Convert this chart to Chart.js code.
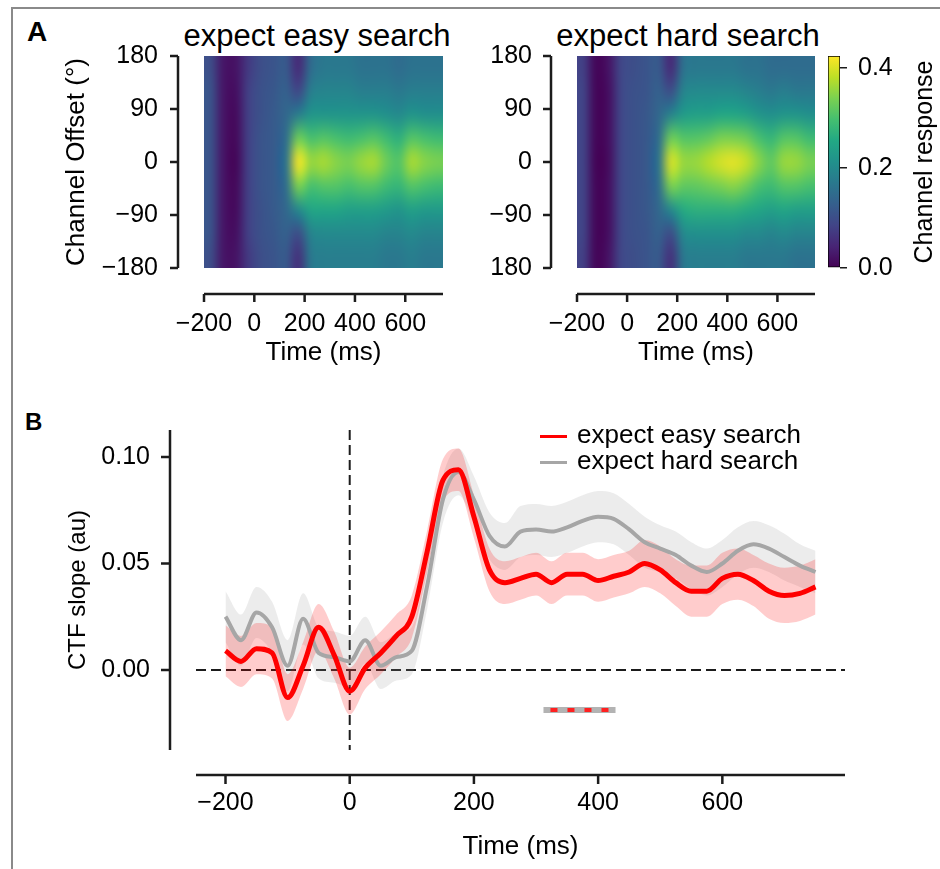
<!DOCTYPE html>
<html>
<head>
<meta charset="utf-8">
<title>CTF slope by expected search difficulty</title>
<script src="https://cdn.jsdelivr.net/npm/chart.js@4.4.1/dist/chart.umd.min.js"></script>
<style>
  html, body { margin: 0; padding: 0; background: #fff; }
  body { width: 940px; height: 869px; position: relative; overflow: hidden;
         font-family: 'Liberation Sans', Arial, sans-serif; color: #000; }
  .frame { position: absolute; left: 11px; top: 7px; width: 929px; height: 862px; box-sizing: border-box;
           border-left: 2px solid #8a8a8a; border-top: 2px solid #8a8a8a; }
  canvas { position: absolute; }
  .panel { position: absolute; font-weight: bold; }
  .htitle { position: absolute; width: 500px; text-align: center; font-size: 31px; line-height: 36px; white-space: nowrap; }
  .cblabel { position: absolute; left: 793px; top: 147px; width: 260px; height: 30px; line-height: 30px;
             font-size: 25px; text-align: center; transform: rotate(-90deg); white-space: nowrap; }
  .leg { position: absolute; left: 540px; height: 30px; line-height: 30px; font-size: 26px; white-space: nowrap; }
  .leg .sw { display: inline-block; width: 27px; height: 3px; vertical-align: middle; margin-right: 10px; }
</style>
</head>
<body>
<div class="frame"></div>
<div class="panel" style="left:27px; top:16px; font-size:28px; line-height:32px;">A</div>
<div class="panel" style="left:25px; top:408px; font-size:24px; line-height:28px;">B</div>
<div class="htitle" style="left:67px; top:18px;">expect easy search</div>
<div class="htitle" style="left:438px; top:18px;">expect hard search</div>
<canvas id="heatEasy" width="430" height="344" style="left:40px; top:36px;"></canvas>
<canvas id="heatHard" width="372" height="344" style="left:470px; top:36px;"></canvas>
<canvas id="cbar" width="140" height="354" style="left:800px; top:26px;"></canvas>
<div class="cblabel">Channel response</div>
<canvas id="slope" width="940" height="469" style="left:0px; top:400px;"></canvas>
<div class="leg" style="top:419px;"><span class="sw" style="background:#ff0000"></span>expect easy search</div>
<div class="leg" style="top:445px;"><span class="sw" style="background:#a6a6a6"></span>expect hard search</div>

<script>
/* -------------------- DATA -------------------- */

// panel B: CTF slope time courses
const timeMs = [-200, -175, -150, -125, -100, -75, -50, -25, 0, 25, 50, 75, 100, 125, 150, 175, 200,
    225, 250, 275, 300, 325, 350, 375, 400, 425, 450, 475, 500, 525, 550, 575, 600, 625, 650, 675, 700, 725, 750];

const easyMean = [0.009, 0.004, 0.010, 0.008, -0.013, 0.002, 0.020, 0.007, -0.010,
    0.001, 0.008, 0.016, 0.025, 0.056, 0.089, 0.094, 0.072,
    0.047, 0.041, 0.043, 0.045, 0.041, 0.045, 0.045, 0.042,
    0.044, 0.046, 0.050, 0.047, 0.041, 0.037, 0.037, 0.043,
    0.045, 0.042, 0.037, 0.035, 0.036, 0.039];
const easySem = [0.012, 0.012, 0.012, 0.012, 0.011, 0.011, 0.011, 0.011, 0.011,
    0.010, 0.010, 0.010, 0.010, 0.010, 0.010, 0.010, 0.010,
    0.010, 0.010, 0.010, 0.010, 0.010, 0.010, 0.010, 0.010,
    0.010, 0.010, 0.011, 0.011, 0.011, 0.012, 0.012, 0.012,
    0.012, 0.012, 0.013, 0.013, 0.013, 0.013];

const hardMean = [0.025, 0.014, 0.027, 0.020, 0.002, 0.024, 0.008, 0.006, 0.004,
    0.014, 0.002, 0.006, 0.009, 0.040, 0.080, 0.093, 0.080,
    0.063, 0.058, 0.065, 0.066, 0.065, 0.067, 0.070, 0.072,
    0.071, 0.066, 0.060, 0.057, 0.054, 0.049, 0.046, 0.050,
    0.056, 0.059, 0.057, 0.053, 0.049, 0.046];
const hardSem = [0.012, 0.012, 0.012, 0.012, 0.012, 0.012, 0.012, 0.012, 0.012,
    0.011, 0.011, 0.011, 0.011, 0.011, 0.011, 0.011, 0.011,
    0.011, 0.011, 0.012, 0.012, 0.012, 0.012, 0.012, 0.012,
    0.012, 0.012, 0.012, 0.011, 0.011, 0.011, 0.011, 0.011,
    0.011, 0.011, 0.011, 0.011, 0.010, 0.010];

// significant cluster (easy vs hard)
const sigWindow = [312, 428];
const sigLevel = -0.0188;

// panel A: channel response, rows = channel offset, columns = time bin centre
const heatTimes = [-175, -125, -75, -25, 25, 75, 125, 175, 225, 275, 325, 375, 425, 475, 525, 575, 625, 675, 725];
const heatOffsets = [160, 120, 80, 40, 0, -40, -80, -120, -160];

const easyHeat = [
    [0.10, 0.025, 0.020, 0.07, 0.100, 0.110, 0.12, 0.05, 0.15, 0.17, 0.17, 0.17, 0.16, 0.16, 0.16, 0.15, 0.16, 0.16, 0.16],
    [0.11, 0.025, 0.015, 0.08, 0.105, 0.115, 0.13, 0.09, 0.18, 0.19, 0.19, 0.19, 0.18, 0.18, 0.18, 0.17, 0.18, 0.18, 0.18],
    [0.11, 0.025, 0.010, 0.08, 0.105, 0.120, 0.14, 0.18, 0.22, 0.22, 0.22, 0.22, 0.22, 0.22, 0.21, 0.20, 0.22, 0.21, 0.21],
    [0.11, 0.025, 0.008, 0.08, 0.110, 0.120, 0.15, 0.33, 0.30, 0.31, 0.30, 0.29, 0.30, 0.31, 0.29, 0.27, 0.31, 0.30, 0.29],
    [0.11, 0.025, 0.004, 0.08, 0.110, 0.120, 0.16, 0.42, 0.36, 0.37, 0.35, 0.34, 0.36, 0.37, 0.33, 0.31, 0.37, 0.35, 0.34],
    [0.11, 0.025, 0.008, 0.08, 0.110, 0.120, 0.15, 0.34, 0.30, 0.31, 0.31, 0.30, 0.31, 0.31, 0.29, 0.28, 0.31, 0.30, 0.29],
    [0.11, 0.025, 0.010, 0.08, 0.105, 0.120, 0.14, 0.20, 0.25, 0.25, 0.25, 0.24, 0.24, 0.24, 0.23, 0.22, 0.24, 0.23, 0.23],
    [0.11, 0.025, 0.015, 0.08, 0.105, 0.115, 0.13, 0.10, 0.19, 0.20, 0.20, 0.20, 0.20, 0.20, 0.19, 0.19, 0.20, 0.19, 0.19],
    [0.10, 0.025, 0.020, 0.07, 0.100, 0.110, 0.12, 0.06, 0.17, 0.18, 0.18, 0.18, 0.18, 0.18, 0.17, 0.17, 0.18, 0.17, 0.17]
];

const hardHeat = [
    [0.080, 0.005, 0.020, 0.09, 0.100, 0.110, 0.12, 0.05, 0.16, 0.17, 0.17, 0.17, 0.17, 0.16, 0.16, 0.15, 0.15, 0.15, 0.15],
    [0.085, 0.005, 0.015, 0.09, 0.105, 0.110, 0.13, 0.10, 0.19, 0.20, 0.20, 0.20, 0.20, 0.19, 0.18, 0.17, 0.18, 0.17, 0.17],
    [0.085, 0.005, 0.015, 0.09, 0.105, 0.115, 0.14, 0.19, 0.23, 0.24, 0.24, 0.25, 0.25, 0.24, 0.22, 0.21, 0.22, 0.22, 0.21],
    [0.085, 0.005, 0.015, 0.09, 0.105, 0.115, 0.15, 0.33, 0.31, 0.31, 0.32, 0.34, 0.34, 0.33, 0.30, 0.28, 0.31, 0.31, 0.29],
    [0.085, 0.003, 0.012, 0.09, 0.105, 0.115, 0.16, 0.40, 0.36, 0.36, 0.38, 0.40, 0.41, 0.39, 0.35, 0.32, 0.36, 0.36, 0.34],
    [0.085, 0.005, 0.015, 0.09, 0.105, 0.115, 0.15, 0.34, 0.32, 0.32, 0.33, 0.34, 0.35, 0.33, 0.30, 0.29, 0.31, 0.31, 0.30],
    [0.085, 0.005, 0.015, 0.09, 0.105, 0.115, 0.14, 0.20, 0.26, 0.27, 0.27, 0.27, 0.27, 0.26, 0.25, 0.24, 0.25, 0.24, 0.24],
    [0.085, 0.005, 0.015, 0.09, 0.105, 0.110, 0.13, 0.10, 0.20, 0.21, 0.21, 0.21, 0.21, 0.20, 0.20, 0.19, 0.20, 0.19, 0.19],
    [0.080, 0.005, 0.020, 0.09, 0.100, 0.110, 0.12, 0.06, 0.17, 0.18, 0.18, 0.18, 0.18, 0.17, 0.17, 0.17, 0.17, 0.16, 0.16]
];

// axis limits and ticks
const heatTimeRange = [-200, 750];
const heatOffsetRange = [-180, 180];
const cbRange = [0, 0.424];
const slopeTimeRange = [-247.5, 797.5];
const slopeRange = [-0.0376, 0.1127];

const timeTicks = [-200, 0, 200, 400, 600];
const timeTickLabels = ['\u2212200', '0', '200', '400', '600'];
const offsetTicks = [-180, -90, 0, 90, 180];
const offsetTickLabelsEasy = ['\u2212180', '\u221290', '0', '90', '180'];
const offsetTickLabelsHard = ['180', '\u221290', '0', '90', '180'];
const responseTicks = [0, 0.2, 0.4];
const responseTickLabels = ['0.0', '0.2', '0.4'];
const slopeTicks = [0, 0.05, 0.10];
const slopeTickLabels = ['0.00', '0.05', '0.10'];

/* -------------------- DEFAULTS -------------------- */

Chart.defaults.font.family = "'Liberation Sans', Arial, sans-serif";
Chart.defaults.font.size = 25;
Chart.defaults.color = '#000';
Chart.defaults.animation = false;
Chart.defaults.events = [];
Chart.defaults.plugins.legend.display = false;
Chart.defaults.plugins.tooltip.enabled = false;

const INK = '#1c1c1c';

/* -------------------- HELPERS -------------------- */

const viridisStops = ['#440154', '#482475', '#414487', '#355f8d', '#2a788e', '#21918c',
    '#22a884', '#44bf70', '#7ad151', '#bddf26', '#fde725'];

function hexRgb(h) {
    return [1, 3, 5].map(i => parseInt(h.slice(i, i + 2), 16));
}

function viridis(f) {
    f = Math.min(1, Math.max(0, f));
    const p = f * (viridisStops.length - 1);
    const i = Math.min(Math.floor(p), viridisStops.length - 2);
    const u = p - i;
    const a = hexRgb(viridisStops[i]), b = hexRgb(viridisStops[i + 1]);
    const c = a.map((v, k) => Math.round(v + (b[k] - v) * u));
    return `rgb(${c[0]},${c[1]},${c[2]})`;
}

function fixedTicks(values) {
    return scale => { scale.ticks = values.map(v => ({ value: v })); };
}

// matplotlib/seaborn style spines, pulled away from the data area
const offsetSpines = {
    id: 'offsetSpines',
    afterDraw(chart, args, o) {
        const { ctx, chartArea: a, scales } = chart;
        ctx.save();
        ctx.strokeStyle = o.color;
        ctx.lineWidth = o.width;
        ctx.lineCap = 'butt';
        ctx.beginPath();
        if (o.yGap != null) {
            const sx = a.left - o.yGap;
            ctx.moveTo(sx, a.top);
            ctx.lineTo(sx, a.bottom);
            scales.y.ticks.forEach(t => {
                const py = scales.y.getPixelForValue(t.value);
                ctx.moveTo(sx, py);
                ctx.lineTo(sx - o.tick, py);
            });
        }
        if (o.xGap != null) {
            const sy = a.bottom + o.xGap;
            ctx.moveTo(a.left, sy);
            ctx.lineTo(a.right, sy);
            scales.x.ticks.forEach(t => {
                const px = scales.x.getPixelForValue(t.value);
                ctx.moveTo(px, sy);
                ctx.lineTo(px, sy + o.tick);
            });
        }
        ctx.stroke();
        ctx.restore();
    }
};

// resample the drawn cells at their centres and stretch back with smoothing (imshow-like interpolation)
const heatSmooth = {
    id: 'heatSmooth',
    afterDatasetsDraw(chart, args, o) {
        const { ctx, canvas, chartArea: a } = chart;
        const w = Math.round(a.right - a.left), h = Math.round(a.bottom - a.top);
        const small = document.createElement('canvas');
        small.width = o.cols;
        small.height = o.rows;
        const sctx = small.getContext('2d');
        sctx.imageSmoothingEnabled = false;
        sctx.drawImage(canvas, Math.round(a.left), Math.round(a.top), w, h, 0, 0, o.cols, o.rows);
        ctx.save();
        ctx.imageSmoothingEnabled = true;
        ctx.imageSmoothingQuality = 'high';
        ctx.drawImage(small, 0, 0, o.cols, o.rows, Math.round(a.left), Math.round(a.top), w, h);
        ctx.restore();
    }
};

// dashed zero lines in panel B
const zeroLines = {
    id: 'zeroLines',
    beforeDatasetsDraw(chart) {
        const { ctx, chartArea: a, scales: { x, y } } = chart;
        ctx.save();
        ctx.strokeStyle = INK;
        ctx.lineWidth = 2;
        ctx.setLineDash([10, 5]);
        ctx.beginPath();
        const py = y.getPixelForValue(0);
        ctx.moveTo(a.left, py);
        ctx.lineTo(a.right, py);
        const px = x.getPixelForValue(0);
        ctx.moveTo(px, a.top);
        ctx.lineTo(px, a.bottom);
        ctx.stroke();
        ctx.restore();
    }
};

/* -------------------- PANEL A: HEATMAPS -------------------- */

function heatDatasets(matrix) {
    const half = (heatOffsets[0] - heatOffsets[1]) / 2;
    return heatOffsets.map((off, r) => ({
        data: heatTimes.map(t => ({ x: t, y: [off - half, off + half] })),
        backgroundColor: matrix[r].map(v => viridis((v - cbRange[0]) / (cbRange[1] - cbRange[0]))),
        borderWidth: 0,
        barPercentage: 1,
        categoryPercentage: 1,
        grouped: false
    }));
}

function drawHeatmap(id, matrix, yWidth, yTickLen, offsetLabels, showYTitle) {
    return new Chart(document.getElementById(id), {
        type: 'bar',
        data: { datasets: heatDatasets(matrix) },
        plugins: [heatSmooth, offsetSpines],
        options: {
            responsive: false,
            layout: { padding: { top: 20, right: 27, left: 0, bottom: 0 } },
            plugins: {
                heatSmooth: { cols: heatTimes.length, rows: heatOffsets.length },
                offsetSpines: { yGap: 26, xGap: 26, tick: 8, width: 2.5, color: INK }
            },
            scales: {
                x: {
                    type: 'linear',
                    min: heatTimeRange[0], max: heatTimeRange[1],
                    offset: false,
                    afterBuildTicks: fixedTicks(timeTicks),
                    afterFit: s => { s.height = 112; },
                    grid: { display: false, drawTicks: true, tickLength: 37 },
                    border: { display: false },
                    ticks: { padding: 4, autoSkip: false, maxRotation: 0, callback: (v, i) => timeTickLabels[i] },
                    title: { display: true, text: 'Time (ms)', font: { size: 26 }, padding: { top: 0, bottom: 12 } }
                },
                y: {
                    min: heatOffsetRange[0], max: heatOffsetRange[1],
                    afterBuildTicks: fixedTicks(offsetTicks),
                    afterFit: s => { s.width = yWidth; },
                    grid: { display: false, drawTicks: true, tickLength: yTickLen },
                    border: { display: false },
                    ticks: { padding: 4, callback: (v, i) => offsetLabels[i] },
                    title: { display: showYTitle, text: 'Channel Offset (\u00b0)', font: { size: 26 }, padding: { top: 21, bottom: 0 } }
                }
            }
        }
    });
}

drawHeatmap('heatEasy', easyHeat, 164, 42, offsetTickLabelsEasy, true);
drawHeatmap('heatHard', hardHeat, 107, 41, offsetTickLabelsHard, false);

// colour bar
new Chart(document.getElementById('cbar'), {
    type: 'bar',
    data: {
        labels: [''],
        datasets: [{
            data: [cbRange],
            backgroundColor(c) {
                const chart = c.chart;
                if (!chart.chartArea) return viridis(0.5);
                const y = chart.scales.y;
                const g = chart.ctx.createLinearGradient(0, y.getPixelForValue(cbRange[0]), 0, y.getPixelForValue(cbRange[1]));
                viridisStops.forEach((col, i) => g.addColorStop(i / (viridisStops.length - 1), col));
                return g;
            },
            borderColor: '#000',
            borderWidth: 1,
            borderSkipped: false,
            barPercentage: 1,
            categoryPercentage: 1
        }]
    },
    options: {
        responsive: false,
        layout: { padding: { top: 30, left: 28, right: 0, bottom: 112 } },
        scales: {
            x: { display: false },
            y: {
                position: 'right',
                min: cbRange[0], max: cbRange[1],
                afterBuildTicks: fixedTicks(responseTicks),
                afterFit: s => { s.width = 100; },
                grid: { display: true, drawOnChartArea: false, drawTicks: true, tickLength: 7, color: INK, lineWidth: 1.5 },
                border: { display: false },
                ticks: { padding: 11, callback: (v, i) => responseTickLabels[i] }
            }
        }
    }
});

/* -------------------- PANEL B: CTF SLOPE -------------------- */

const pts = arr => timeMs.map((t, i) => ({ x: t, y: arr[i] }));
const easyUpper = easyMean.map((m, i) => m + easySem[i]);
const easyLower = easyMean.map((m, i) => m - easySem[i]);
const hardUpper = hardMean.map((m, i) => m + hardSem[i]);
const hardLower = hardMean.map((m, i) => m - hardSem[i]);

const bandStyle = { borderColor: 'transparent', borderWidth: 0, pointRadius: 0, cubicInterpolationMode: 'monotone' };

new Chart(document.getElementById('slope'), {
    type: 'line',
    data: {
        datasets: [
            { label: 'hard upper', data: pts(hardUpper), fill: false, order: 6, ...bandStyle },
            { label: 'hard lower', data: pts(hardLower), fill: '-1', backgroundColor: 'rgba(150,150,150,0.18)', order: 6, ...bandStyle },
            { label: 'easy upper', data: pts(easyUpper), fill: false, order: 5, ...bandStyle },
            { label: 'easy lower', data: pts(easyLower), fill: '-1', backgroundColor: 'rgba(255,0,0,0.2)', order: 5, ...bandStyle },
            { label: 'expect hard search', data: pts(hardMean), borderColor: '#a6a6a6', borderWidth: 4,
              pointRadius: 0, fill: false, cubicInterpolationMode: 'monotone', order: 3 },
            { label: 'expect easy search', data: pts(easyMean), borderColor: '#ff0000', borderWidth: 5,
              pointRadius: 0, fill: false, cubicInterpolationMode: 'monotone', order: 2 },
            { label: 'sig', data: sigWindow.map(t => ({ x: t, y: sigLevel })), borderColor: '#b3b3b3', borderWidth: 6,
              borderCapStyle: 'butt', pointRadius: 0, fill: false, order: 1 },
            { label: 'sig dash', data: sigWindow.map(t => ({ x: t, y: sigLevel })), borderColor: '#ff2020', borderWidth: 4,
              borderDash: [7, 10], borderDashOffset: 10, borderCapStyle: 'butt', pointRadius: 0, fill: false, order: 0 }
        ]
    },
    plugins: [zeroLines, offsetSpines],
    options: {
        responsive: false,
        layout: { padding: { top: 30, left: 40, right: 95, bottom: 7 } },
        plugins: {
            offsetSpines: { yGap: 26, xGap: 25, tick: 9, width: 2.5, color: INK }
        },
        scales: {
            x: {
                type: 'linear',
                min: slopeTimeRange[0], max: slopeTimeRange[1],
                afterBuildTicks: fixedTicks(timeTicks),
                afterFit: s => { s.height = 112; },
                grid: { display: false, drawTicks: true, tickLength: 34 },
                border: { display: false },
                ticks: { padding: 4, autoSkip: false, maxRotation: 0, callback: (v, i) => timeTickLabels[i] },
                title: { display: true, text: 'Time (ms)', font: { size: 26 }, padding: { top: 0, bottom: 0 } }
            },
            y: {
                min: slopeRange[0], max: slopeRange[1],
                afterBuildTicks: fixedTicks(slopeTicks),
                afterFit: s => { s.width = 156; },
                grid: { display: false, drawTicks: true, tickLength: 42 },
                border: { display: false },
                ticks: { padding: 4, callback: (v, i) => slopeTickLabels[i] },
                title: { display: true, text: 'CTF slope (au)', font: { size: 24 }, padding: { top: 24, bottom: 0 } }
            }
        }
    }
});
</script>
</body>
</html>
